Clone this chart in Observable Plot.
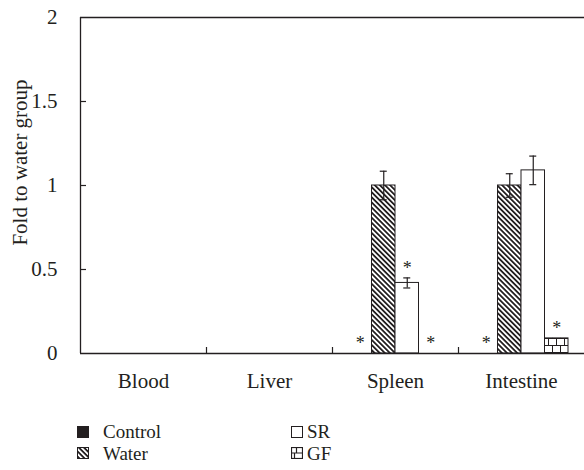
<!DOCTYPE html>
<html>
<head>
<meta charset="utf-8">
<script src="https://cdn.jsdelivr.net/npm/d3@7"></script>
<script src="https://cdn.jsdelivr.net/npm/@observablehq/plot@0.6"></script>
<style>
  body { margin: 0; background: #fff; font-family: "Liberation Serif", "DejaVu Serif", serif; color: #231f20; }
  #wrap { position: relative; width: 584px; height: 470px; }
  .leg { position: absolute; font-size: 19px; line-height: 21px; height: 21px; display: flex; align-items: center; white-space: nowrap; }
  .leg svg { margin-right: 14px; }
</style>
</head>
<body>
<div id="wrap"></div>
<script>
// ---- data ----
const organs = ["Blood", "Liver", "Spleen", "Intestine"];
const groups = ["Control", "Water", "SR", "GF"];
const bloodMean = [null, null, null, null];
const liverMean = [null, null, null, null];
const spleenMean = [0, 1.0, 0.42, 0];
const spleenErr = [0, 0.085, 0.03, 0];
const spleenSig = [true, false, true, true];
const intestineMean = [0, 1.0, 1.09, 0.09];
const intestineErr = [0, 0.07, 0.085, 0];
const intestineSig = [true, false, false, true];
const yTicks = [0, 0.5, 1, 1.5, 2];
const yTickLabels = ["0", "0.5", "1", "1.5", "2"];
const yLabel = "Fold to water group";

// ---- table ----
const means = [bloodMean, liverMean, spleenMean, intestineMean];
const errs = [[0,0,0,0],[0,0,0,0], spleenErr, intestineErr];
const sigs = [[false,false,false,false],[false,false,false,false], spleenSig, intestineSig];
const rows = [];
organs.forEach((o, i) => groups.forEach((g, j) => {
  rows.push({organ: o, group: g, gi: j, value: means[i][j], err: errs[i][j], sig: sigs[i][j]});
}));

// ---- layout ----
const W = 584, H = 405, mL = 80, mR = 0, mT = 17, mB = 52;
const bandW = (W - mL - mR) / organs.length;
const barW = 23.5;
const outer = (bandW - barW * groups.length) / 2;
const ink = "#231f20";
const fills = [ink, "url(#hatch)", "white", "url(#brick)"];
const FS = 21;

const marks = [];
groups.forEach((g, j) => {
  const left = outer + j * barW;
  const center = left + barW / 2;
  const sub = rows.filter(d => d.group === g);
  marks.push(Plot.barY(sub.filter(d => d.value > 0), {
    x: "organ", y: "value", fill: fills[j], stroke: ink, strokeWidth: 1,
    insetLeft: left, insetRight: bandW - left - barW
  }));
  const e = sub.filter(d => d.err > 0);
  marks.push(Plot.ruleX(e, {x: "organ", y1: d => d.value - d.err, y2: d => d.value + d.err, dx: center - bandW / 2, stroke: ink, strokeWidth: 1.2}));
  marks.push(Plot.tickY(e, {x: "organ", y: d => d.value + d.err, insetLeft: center - 3.5, insetRight: bandW - center - 3.5, stroke: ink, strokeWidth: 1.2}));
  marks.push(Plot.tickY(e, {x: "organ", y: d => d.value - d.err, insetLeft: center - 3.5, insetRight: bandW - center - 3.5, stroke: ink, strokeWidth: 1.2}));
  marks.push(Plot.text(sub.filter(d => d.sig), {
    x: "organ", y: d => (d.value || 0) + d.err, text: () => "*", dx: center - bandW / 2, dy: -10,
    fontSize: 18, fill: ink
  }));
});

const plot = Plot.plot({
  width: W, height: H,
  marginLeft: mL, marginRight: mR, marginTop: mT, marginBottom: mB,
  style: {fontFamily: "'Liberation Serif', serif", fontSize: FS + "px", color: ink, background: "white"},
  x: {domain: organs, padding: 0, axis: null},
  y: {domain: [0, 2], axis: null},
  marks: [
    ...marks,
    Plot.ruleY([0, 2], {stroke: ink, strokeWidth: 1.3}),
    Plot.ruleX([organs[0]], {dx: -bandW / 2, stroke: ink, strokeWidth: 1.3}),
    Plot.ruleX(organs.slice(0, -1), {x: d => d, dx: bandW / 2, y1: 2, y2: 0, insetTop: (H - mT - mB) - 6, stroke: ink, strokeWidth: 1.2}),
    Plot.tickY(yTicks.slice(1, -1), {y: d => d, x: () => organs[0], insetRight: bandW - 6, stroke: ink, strokeWidth: 1.2}),
    Plot.axisX({tickSize: 0, tickPadding: 20, fontSize: FS, fill: ink, label: null}),
    Plot.axisY({ticks: yTicks, tickFormat: d => yTickLabels[yTicks.indexOf(d)], tickSize: 0, tickPadding: 23, label: null, fontSize: FS, fill: ink}),
    Plot.text([yLabel], {text: d => d, frameAnchor: "left", textAnchor: "middle", rotate: -90, dx: -60, dy: -23, fontSize: FS, fill: ink})
  ]
});

// pattern definitions referenced by the bars
const ns = "http://www.w3.org/2000/svg";
const defsHTML = `
  <pattern id="hatch" patternUnits="userSpaceOnUse" width="3.6" height="3.6" patternTransform="rotate(-45)">
    <rect width="3.6" height="3.6" fill="white"/>
    <rect width="1.8" height="3.6" fill="${ink}"/>
  </pattern>
  <pattern id="brick" patternUnits="userSpaceOnUse" width="16" height="14" y="2">
    <rect width="16" height="14" fill="white"/>
    <path d="M0,0.5H16M0,7.5H16M4.5,0V7M12.5,0V7M0.5,7V14M8.5,7V14" stroke="${ink}" stroke-width="1" fill="none"/>
  </pattern>`;
const defs = document.createElementNS(ns, "defs");
defs.innerHTML = defsHTML;
plot.insertBefore(defs, plot.firstChild);

const wrap = document.getElementById("wrap");
wrap.appendChild(plot);

// legend
function icon(fill, kind) {
  let inner = `<rect x="0.5" y="0.5" width="11" height="11" fill="${fill}" stroke="${ink}" stroke-width="1"/>`;
  if (kind === "brick") inner = `<rect x="0.5" y="0.5" width="11" height="11" fill="white" stroke="${ink}" stroke-width="1.2"/><path d="M0,6H12M5.5,0V6M3.5,6V12" stroke="${ink}" stroke-width="1.2"/>`;
  if (kind === "hatch") inner = `<defs><pattern id="hatchL" patternUnits="userSpaceOnUse" width="3.6" height="3.6" patternTransform="rotate(-45)"><rect width="3.6" height="3.6" fill="white"/><rect width="1.8" height="3.6" fill="${ink}"/></pattern></defs><rect x="0.5" y="0.5" width="11" height="11" fill="url(#hatchL)" stroke="${ink}" stroke-width="1"/>`;
  return `<svg width="12" height="12" viewBox="0 0 12 12">${inner}</svg>`;
}
const legendItems = [
  {label: groups[0], left: 77, top: 421, fill: ink, kind: "solid"},
  {label: groups[1], left: 77, top: 442.5, fill: "white", kind: "hatch"},
  {label: groups[2], left: 291, top: 421, fill: "white", kind: "open"},
  {label: groups[3], left: 291, top: 442.5, fill: "white", kind: "brick"}
];
legendItems.forEach(it => {
  const div = document.createElement("div");
  div.className = "leg";
  div.style.left = it.left + "px";
  div.style.top = it.top + "px";
  div.innerHTML = icon(it.fill, it.kind) + `<span>${it.label}</span>`;
  if (it.kind === "open" || it.kind === "brick") div.querySelector("svg").style.marginRight = "4px";
  wrap.appendChild(div);
});
</script>
</body>
</html>
